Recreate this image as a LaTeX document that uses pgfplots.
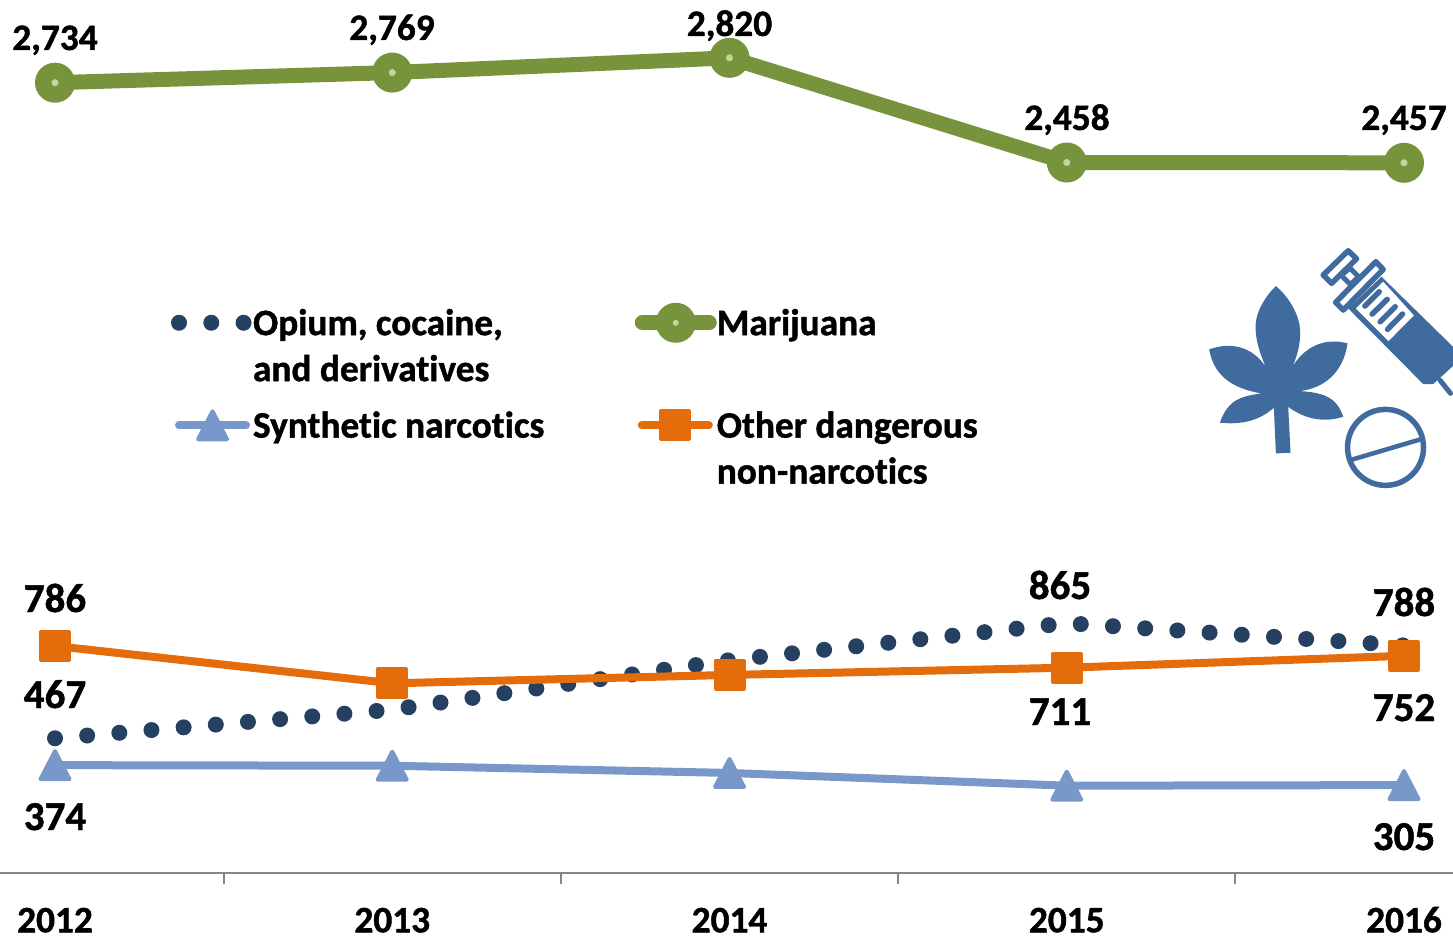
\documentclass[border=0pt]{standalone}
\usepackage{fontspec}
\setmainfont[Ligatures={NoCommon},BoldFeatures={FakeBold=1.2}]{Carlito}
\usepackage{pgfplots}
\pgfplotsset{compat=1.18}
\definecolor{marijuana}{HTML}{77933C}
\definecolor{marijuanadot}{HTML}{C3D69B}
\definecolor{opium}{HTML}{254061}
\definecolor{synthetic}{HTML}{7798C8}
\definecolor{otherdrug}{HTML}{E46C0A}
\definecolor{iconblue}{HTML}{3F6B9F}
\definecolor{axisgray}{HTML}{868686}
\newcommand{\chartfont}{\fontsize{37.3}{46}\selectfont\bfseries}
\newcommand{\lowfont}{\fontsize{41}{46}\selectfont\bfseries}

% Rounded triangle as tall as it is wide
\pgfdeclareplotmark{tallTriangle}{%
  \pgfpathmoveto{\pgfqpoint{0pt}{14pt}}%
  \pgfpathlineto{\pgfqpoint{-14.5pt}{-14pt}}%
  \pgfpathlineto{\pgfqpoint{14.5pt}{-14pt}}%
  \pgfpathclose
  \pgfusepathqfillstroke
}

% Legend glyphs
\pgfplotsset{
  dotsGlyph/.style={legend image code/.code={\draw[##1] (7pt,0pt)--(73pt,0pt);}},
  circleGlyph/.style={legend image code/.code={%
    \draw[##1,line cap=round,mark repeat=2,mark phase=2] plot coordinates {(7.5pt,0pt)(41pt,0pt)(74.5pt,0pt)};
    \path[fill=marijuanadot,draw=none] (41pt,0pt) circle (3pt);}},
  lineGlyph/.style={legend image code/.code={%
    \draw[##1,line cap=round,mark repeat=2,mark phase=2] plot coordinates {(7pt,0pt)(40.5pt,0pt)(74pt,0pt)};}},
}

\pgfplotstableread{
idx opium marijuana synthetic other
0   467   2734      374       786
1   566   2769      372       657
2   737   2820      347       686
3   865   2458      303       711
4   788   2457      305       752
}\drugs

\begin{document}
\begin{tikzpicture}[x=1pt,y=1pt]
\path[use as bounding box] (0,0) rectangle (1453,935);
\begin{axis}[
  at={(0pt,61.7pt)}, anchor=south west,
  scale only axis, width=1453pt, height=873.3pt,
  xmin=-0.1631, xmax=4.1453, ymin=0, ymax=3020,
  axis y line=none, axis x line=bottom,
  axis line style={axisgray,line width=2pt,-},
  xtick={0.5,1.5,2.5,3.5}, xticklabels={},
  tick align=outside, major tick length=11pt,
  x tick style={axisgray,line width=2pt},
  extra x ticks={0,1,2,3,4},
  extra x tick labels={2012,2013,2014,2015,2016},
  extra x tick style={major tick length=0pt,
    tick label style={font=\chartfont,text=black,anchor=base,yshift=-59pt}},
  clip=false,
  legend columns=2,
  legend cell align=left,
  legend style={at={(axis description cs:0.1177,0.651)},anchor=north west,
    draw=none,fill=none,inner sep=0pt,outer sep=0pt,
    font=\chartfont,
    nodes={inner sep=0pt,outer sep=0pt},
    /tikz/every even column/.append style={column sep=90.5pt},
    /tikz/every odd column/.append style={column sep=0pt},
    row sep=70pt},
]
\addplot[opium,line width=16pt,line cap=round,dash pattern=on 0pt off 32.27pt,dotsGlyph]
  table[x=idx,y=opium]{\drugs};
\addlegendentry{\vtop{\hbox{Opium, cocaine,}\hbox{and derivatives}}}
\addplot[marijuana,line width=15pt,mark=*,mark size=18pt,
  mark options={solid,draw=marijuana,fill=marijuana,line width=4pt},circleGlyph]
  table[x=idx,y=marijuana]{\drugs};
\addlegendentry{Marijuana}
\addplot[only marks,forget plot,mark=*,mark size=3.3pt,
  mark options={draw=marijuanadot,fill=marijuanadot,line width=0.4pt}]
  table[x=idx,y=marijuana]{\drugs};
\addplot[synthetic,line width=8pt,mark=tallTriangle,
  mark options={solid,fill=synthetic,line width=4pt,line join=round},lineGlyph]
  table[x=idx,y=synthetic]{\drugs};
\addlegendentry{Synthetic narcotics}
\addplot[otherdrug,line width=8pt,mark=square*,mark size=14.5pt,
  mark options={solid,fill=otherdrug,line width=3pt,line join=round},lineGlyph]
  table[x=idx,y=other]{\drugs};
\addlegendentry{\vtop{\hbox{Other dangerous}\hbox{non-narcotics}}}
\end{axis}

% Value labels
\begin{scope}[every node/.style={font=\chartfont,inner sep=0pt,anchor=base}]
\node at (55,885) {2,734};
\node at (392,895) {2,769};
\node at (729.5,899) {2,820};
\node at (1067,805) {2,458};
\node at (1404,805) {2,457};
\end{scope}
\begin{scope}[every node/.style={font=\lowfont,inner sep=0pt,anchor=base}]
\node at (55,323) {786};
\node at (55,227) {467};
\node at (55,105) {374};
\node at (1060,336) {865};
\node at (1404,319) {788};
\node at (1060,210) {711};
\node at (1404,214) {752};
\node at (1404,85) {305};
\end{scope}

% Leaf, syringe and pill icon
\begin{scope}[x=0.3333pt,y=-0.3333pt,shift={(3600,-2085)}]
\clip (-10,-20) rectangle (759,780);
\fill[iconblue] (228,138)
  .. controls (200,165) and (165,215) .. (167,265)
  .. controls (168,310) and (185,350) .. (197,380)
  .. controls (165,330) and (105,300) .. (28,328)
  .. controls (40,400) and (90,445) .. (185,460)
  .. controls (130,468) and (85,475) .. (60,548)
  .. controls (130,555) and (180,540) .. (222,503)
  -- (228,640) -- (272,638) -- (265,500)
  .. controls (310,535) and (370,550) .. (430,530)
  .. controls (410,470) and (370,458) .. (300,453)
  .. controls (370,445) and (430,400) .. (443,310)
  .. controls (370,290) and (310,325) .. (278,380)
  .. controls (295,340) and (305,300) .. (299,255)
  .. controls (290,205) and (255,160) .. (228,138) -- cycle;
\begin{scope}[iconblue,line join=round,line cap=round]
  % plunger and stem
  \draw[line width=5.5pt] (445,32)--(470,56)--(395,130)--(370,105)--cycle;
  \draw[line width=5pt] (450,84)--(476,110)--(452,134)--(424,106)--cycle;
  % barrel with its solid end and needle
  \draw[line width=5pt] (720,420)--(752,460);
  \fill (545,110)--(790,350)--(700,432)--(670,432)--(445,205)--cycle;
  \fill[white] (550,125)--(642,226)--(566,303)--(468,205)--cycle;
  \draw[line width=5.5pt,fill=white] (528,65)--(550,88)--(430,210)--(407,187)--cycle;
  \draw[line width=5.5pt] (538,155)--(495,198);
  \draw[line width=5.5pt] (562,178)--(517,222);
  \draw[line width=5.5pt] (586,200)--(541,245);
  \draw[line width=5.5pt] (608,222)--(563,268);
  % pill
  \draw[line width=5.5pt] (557,622) circle (114);
  \draw[line width=4.5pt,line cap=butt] (452,660)--(665,597);
\end{scope}
\end{scope}
\end{tikzpicture}
\end{document}
